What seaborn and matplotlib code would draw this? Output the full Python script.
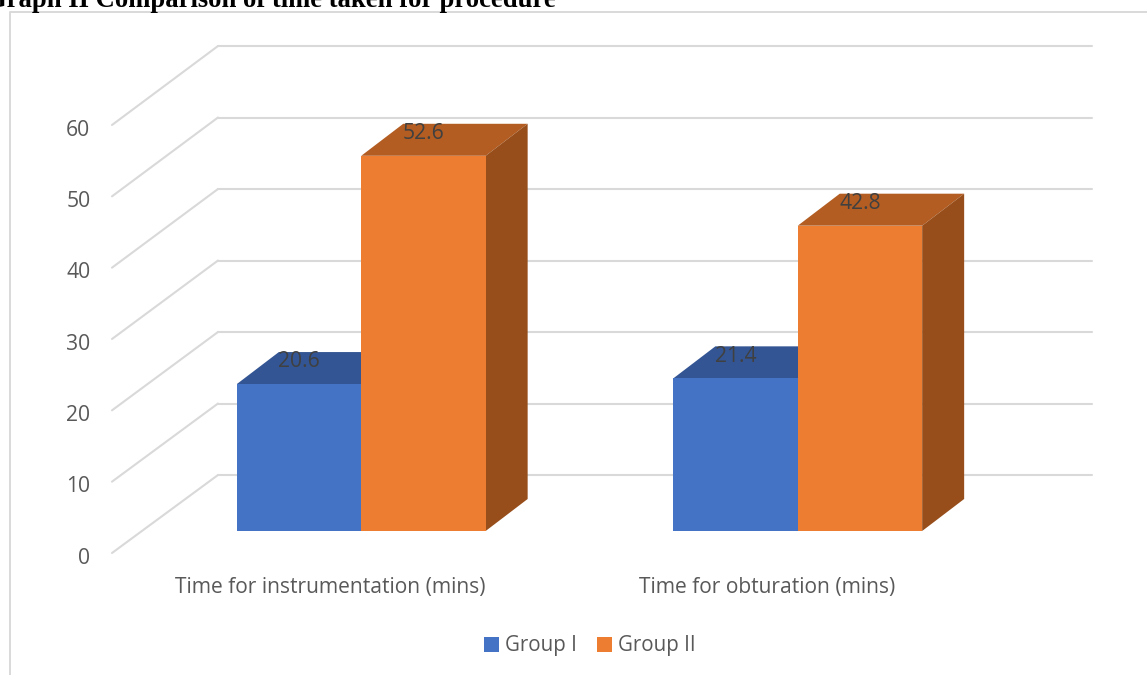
import matplotlib
matplotlib.use("Agg")
import matplotlib.pyplot as plt
from matplotlib.patches import ConnectionPatch, Polygon
from matplotlib.lines import Line2D
from matplotlib.transforms import ScaledTranslation
import pandas as pd
import seaborn as sns

# Values
categories = ["Time for instrumentation (mins)", "Time for obturation (mins)"]
group_i = [20.6, 21.4]
group_ii = [52.6, 42.8]
groups = ["Group I", "Group II"]
y_ticks = [0, 10, 20, 30, 40, 50, 60]
chart_title = "Graph II Comparison of time taken for procedure"

# Colours
front_colors = {"Group I": "#4472C4", "Group II": "#ED7D31"}
top_colors = {"Group I": "#335593", "Group II": "#B35D22"}
side_colors = {"Group I": "#2A4678", "Group II": "#974E1B"}
grid_color = "#D9D9D9"
text_color = "#595959"

sns.set_theme(style="white")
plt.rcParams["font.family"] = ["Open Sans", "DejaVu Sans"]

W, H = 1147, 675
fig = plt.figure(figsize=(W / 100, H / 100), dpi=100, facecolor="white")


def plane(left, right, bottom, top, **kw):
    """Transparent axes placed by its pixel box (y measured from the top edge)."""
    ax = fig.add_axes([left / W, 1 - bottom / H, (right - left) / W, (bottom - top) / H], **kw)
    ax.patch.set_alpha(0)
    ax.set_xlim(-0.5, 1.5)
    ax.set_ylim(0, 60)
    sns.despine(ax=ax, left=True, bottom=True)
    return ax


# Three parallel planes of the 3-D box: back wall, front edge and bar row
ax_back = plane(218, 1092, 475, 46)
ax_front = plane(112, 985, 553, 125)
ax_bars = plane(143, 1016, 531, 103)

# Back wall gridlines
ax_back.set_yticks(y_ticks)
ax_back.set_xticks([])
ax_back.tick_params(left=False, labelleft=False)
ax_back.yaxis.grid(True, color=grid_color, linewidth=1.5)
for line in ax_back.get_ygridlines():
    line.set_clip_on(False)

# Front edge carries the tick labels
ax_front.set_yticks(y_ticks)
ax_front.set_xticks(range(len(categories)))
ax_front.set_xticklabels(categories)
ax_front.tick_params(axis="y", left=False, labelsize=15.2, labelcolor=text_color, pad=9.5)
ax_front.tick_params(axis="x", bottom=False, labelsize=15.1, labelcolor=text_color, pad=11)
nudge_down = ScaledTranslation(0, -2.5 / 100, fig.dpi_scale_trans)
for label in ax_front.get_yticklabels():
    label.set_transform(label.get_transform() + nudge_down)

# Side wall lines joining the front edge to the back wall
for v in y_ticks:
    fig.add_artist(ConnectionPatch(
        xyA=(-0.5, v), coordsA=ax_front.transData,
        xyB=(-0.5, v), coordsB=ax_back.transData,
        color=grid_color, linewidth=1.5,
    ))

# Front faces of the bars
df = pd.DataFrame({
    "category": categories * 2,
    "value": group_i + group_ii,
    "group": [groups[0]] * 2 + [groups[1]] * 2,
})
sns.barplot(
    data=df, x="category", y="value", hue="group", hue_order=groups,
    palette=front_colors, width=0.57, saturation=1, linewidth=0,
    dodge=True, ax=ax_bars, zorder=3,
)
ax_bars.set_xlim(-0.5, 1.5)
ax_bars.set_ylim(0, 60)
ax_bars.set(xlabel="", ylabel="", xticks=[], yticks=[])
handles, labels = ax_bars.get_legend_handles_labels()
ax_bars.get_legend().remove()

# Extruded top and side faces, offset in the axes' own units
depth_x = 42 / (873 / 2)
depth_y = 32 / (428 / 60)
for container, group in zip(ax_bars.containers, groups):
    for bar in container:
        x0, x1 = bar.get_x(), bar.get_x() + bar.get_width()
        h = bar.get_height()
        ax_bars.add_patch(Polygon(
            [(x0, h), (x1, h), (x1 + depth_x, h + depth_y), (x0 + depth_x, h + depth_y)],
            facecolor=top_colors[group], edgecolor="none", zorder=2, clip_on=False,
        ))
        ax_bars.add_patch(Polygon(
            [(x1, 0), (x1 + depth_x, depth_y), (x1 + depth_x, h + depth_y), (x1, h)],
            facecolor=side_colors[group], edgecolor="none", zorder=2, clip_on=False,
        ))
        ax_bars.annotate(
            f"{h:.1f}", xy=((x0 + x1) / 2, h), xytext=(0, 16), textcoords="offset points",
            ha="center", va="center", fontsize=15.2, color="#404040", zorder=5,
        )

# Legend along the bottom
fig.legend(
    handles, labels, loc="center", bbox_to_anchor=(590 / W, 1 - 646 / H), ncol=2,
    frameon=False, fontsize=14.8, labelcolor=text_color, handlelength=0.72, handleheight=0.72,
    handletextpad=0.3, columnspacing=1.0,
)

# Surrounding frame and heading running off the top-left corner
fig.add_artist(Line2D([10 / W, 10 / W, 1], [0, 1 - 12 / H, 1 - 12 / H], color=grid_color, linewidth=1.4))
fig.text(-14 / W, 1 - 7 / H, chart_title, fontsize=19.2, fontweight="bold", ha="left", va="baseline",
         family="Liberation Serif", color="black")

fig.savefig("out.png", dpi=100)
